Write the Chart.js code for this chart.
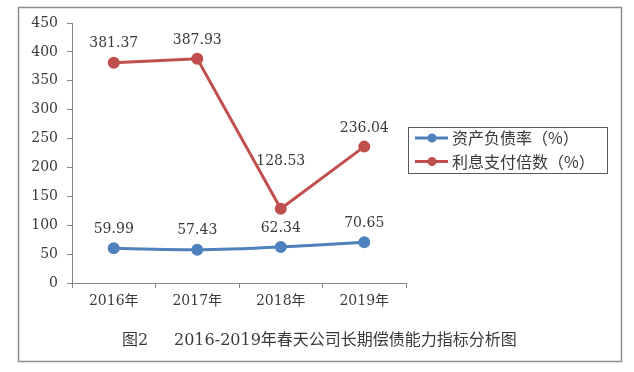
<!DOCTYPE html>
<html>
<head>
<meta charset="utf-8">
<script src="https://cdn.jsdelivr.net/npm/chart.js@4/dist/chart.umd.min.js"></script>
<style>
  html, body { margin: 0; padding: 0; background: #fff; }
  #wrap { width: 634px; height: 372px; }
</style>
</head>
<body>
<div id="wrap"><canvas id="chart" width="634" height="372"></canvas></div>
<script>
// -- Data --
const years = ['2016年', '2017年', '2018年', '2019年'];
const debtRatio = [59.99, 57.43, 62.34, 70.65];
const interestCover = [381.37, 387.93, 128.53, 236.04];
const seriesNames = ['资产负债率（%）', '利息支付倍数（%）'];
const yTicks = [0, 50, 100, 150, 200, 250, 300, 350, 400, 450];
const chartTitle = ['图2', '2016-2019年春天公司长期偿债能力指标分析图'];

// -- Styles --
const BLUE = '#4F81BD';
const RED = '#C0504D';
const AXIS = '#868686';
const TEXT = '#3a3a3a';
const NUM_FONT = '"DejaVu Serif", "Noto Sans CJK SC", serif';
const CJK_FONT = '"Noto Sans CJK SC", "DejaVu Serif", sans-serif';

// label distance above each point (red 2018 sits higher in the original)
const labelLift = [[19, 19, 19, 19], [19, 19, 47, 18]];

// Extra drawing: value labels, legend box, caption, outer frame
const extras = {
    id: 'extras',
    afterDatasetsDraw(chart) {
        const ctx = chart.ctx;
        ctx.save();
        ctx.fillStyle = TEXT;
        ctx.font = '14px ' + NUM_FONT;
        ctx.textAlign = 'center';
        ctx.textBaseline = 'middle';
        chart.data.datasets.forEach((ds, i) => {
            chart.getDatasetMeta(i).data.forEach((pt, j) => {
                ctx.fillText(ds.data[j].toFixed(2), pt.x, pt.y - labelLift[i][j]);
            });
        });
        ctx.restore();
    },
    afterDraw(chart) {
        const ctx = chart.ctx;
        ctx.save();

        // outer frame
        ctx.strokeStyle = '#8c8c8c';
        ctx.lineWidth = 1.5;
        ctx.strokeRect(18.5, 7.5, 603, 354);

        // legend
        const lx = 408, ly = 127, lw = 199, lh = 46;
        ctx.strokeStyle = '#595959';
        ctx.lineWidth = 1;
        ctx.strokeRect(lx + 0.5, ly + 0.5, lw, lh);
        const colors = [BLUE, RED];
        const rows = [138, 161.5];
        ctx.font = '16px ' + CJK_FONT;
        ctx.textAlign = 'left';
        ctx.textBaseline = 'middle';
        seriesNames.forEach((name, i) => {
            ctx.strokeStyle = colors[i];
            ctx.lineWidth = 3;
            ctx.beginPath();
            ctx.moveTo(415, rows[i]);
            ctx.lineTo(448, rows[i]);
            ctx.stroke();
            ctx.fillStyle = colors[i];
            ctx.beginPath();
            ctx.arc(432, rows[i], 4.5, 0, Math.PI * 2);
            ctx.fill();
            ctx.fillStyle = TEXT;
            ctx.fillText(name, 452, rows[i]);
        });

        // caption
        ctx.fillStyle = TEXT;
        ctx.font = '16px ' + NUM_FONT;
        ctx.fillText(chartTitle[0], 122, 341);
        ctx.fillText(chartTitle[1], 174, 341);

        ctx.restore();
    }
};

const ctx = document.getElementById('chart').getContext('2d');
new Chart(ctx, {
    type: 'line',
    data: {
        labels: years,
        datasets: [
            {
                label: seriesNames[0],
                data: debtRatio,
                borderColor: BLUE,
                backgroundColor: BLUE,
                borderWidth: 3,
                pointRadius: 4.5,
                pointHoverRadius: 4.5,
                tension: 0.15,
            },
            {
                label: seriesNames[1],
                data: interestCover,
                borderColor: RED,
                backgroundColor: RED,
                borderWidth: 3,
                pointRadius: 4.5,
                pointHoverRadius: 4.5,
                tension: 0,
            },
        ],
    },
    options: {
        responsive: false,
        animation: false,
        events: [],
        layout: { padding: { top: 23, left: 0, right: 228, bottom: 0 } },
        plugins: {
            legend: { display: false },
            tooltip: { enabled: false },
        },
        scales: {
            x: {
                type: 'category',
                offset: true,
                grid: { offset: true, drawOnChartArea: false, drawTicks: true, tickLength: 5, color: AXIS },
                border: { color: AXIS, width: 1 },
                ticks: { color: TEXT, font: { family: NUM_FONT, size: 14 }, padding: 5, maxRotation: 0 },
                afterFit: (s) => { s.height = 89; },
            },
            y: {
                min: 0,
                max: 450,
                afterBuildTicks: (s) => { s.ticks = yTicks.map(v => ({ value: v })); },
                grid: { drawOnChartArea: false, drawTicks: true, tickLength: 5, color: AXIS },
                border: { color: AXIS, width: 1 },
                ticks: { color: TEXT, font: { family: NUM_FONT, size: 14 }, padding: 9 },
                afterFit: (s) => { s.width = 72; },
            },
        },
    },
    plugins: [extras],
});
</script>
</body>
</html>
